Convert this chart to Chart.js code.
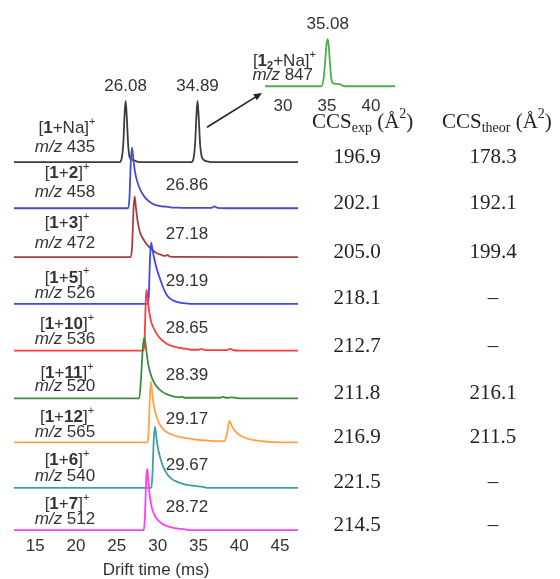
<!DOCTYPE html>
<html lang="en">
<head>
<meta charset="UTF-8">
<title>Drift time traces</title>
<script src="https://cdn.jsdelivr.net/npm/chart.js"></script>
<style>
    body { margin: 0; background: #fff; }
    #wrap { position: relative; width: 560px; height: 579px; }
    #main-box { position: absolute; left: 0; top: 0; width: 560px; height: 579px; }
    #inset-box { position: absolute; left: 240px; top: 3px; width: 180px; height: 120px; }
</style>
</head>
<body>
<div id="wrap">
    <div id="main-box"><canvas id="main"></canvas></div>
    <div id="inset-box"><canvas id="inset"></canvas></div>
</div>
<script>
// rows, top trace first
const guests = ['Na', '2', '3', '5', '10', '11', '12', '6', '7'];
const mzValues = [435, 458, 472, 526, 536, 520, 565, 540, 512];
const driftTimes = [26.08, 26.86, 27.18, 29.19, 28.65, 28.39, 29.17, 29.67, 28.72];
const dimerDrift = 34.89;
const dimerInsetDrift = 35.08;
const dimerMz = 847;
const ccsExp = [196.9, 202.1, 205.0, 218.1, 212.7, 211.8, 216.9, 221.5, 214.5];
const ccsTheor = [178.3, 192.1, 199.4, null, null, 216.1, 211.5, null, null];
const xTicks = [15, 20, 25, 30, 35, 40, 45];
const insetTicks = [30, 35, 40];

// traces: [drift time (ms), relative intensity]
const traceNa = [[12.4,0],[25.35,0],[25.6,6],[25.8,32],[25.95,78],[26.08,100],[26.22,74],[26.38,30],[26.55,9],[26.8,4],[27.1,3],[27.4,1],[27.8,0],
    [34.15,0],[34.4,6],[34.6,32],[34.76,78],[34.89,100],[35.03,74],[35.2,30],[35.4,9],[35.7,3],[36.1,1],[36.5,0],[47.2,0]];
const trace2 = [[12.4,0.5],[26.4,0.5],[26.55,18],[26.72,78],[26.86,100],[27.0,84],[27.2,62],[27.5,44],[27.9,30],[28.4,19],[29.0,11],[29.6,6.5],
    [30.3,4],[31.0,3],[31.6,2],[32.3,1.5],[33.5,1],[36.6,1],[36.95,3.5],[37.3,1.2],[38.5,0.5],[47.2,0.5]];
const trace3 = [[12.4,0.5],[26.72,0.5],[26.88,20],[27.05,80],[27.18,100],[27.32,84],[27.52,62],[27.8,43],[28.2,31],[28.7,21],[29.3,13],[29.9,7],
    [30.5,4],[30.9,2.5],[31.2,4],[31.5,1.5],[32.5,1],[47.2,0.5]];
const trace5 = [[12.4,0],[28.78,0],[28.92,15],[29.06,72],[29.19,100],[29.35,90],[29.6,73],[29.9,57],[30.3,41],[30.7,26],[31.1,15],[31.5,9],
    [32.0,5],[32.6,2.5],[33.3,1],[34.0,0],[47.2,0]];
const trace10 = [[12.4,0.5],[28.3,0.5],[28.42,25],[28.55,85],[28.65,100],[28.8,82],[29.0,62],[29.2,48],[29.5,38],[29.8,30],[30.2,22],[30.7,16],
    [31.2,11],[31.8,8],[32.4,6],[33.0,4.5],[33.6,3.5],[34.2,2],[35.0,2],[35.35,3.5],[35.8,1.5],[38.5,1.5],[38.9,3.5],[39.3,1.2],[41,0.5],[47.2,0.5]];
const trace11 = [[12.4,0.5],[27.75,0.5],[27.95,30],[28.2,86],[28.39,100],[28.55,86],[28.8,60],[29.1,42],[29.5,28],[30.0,18],[30.5,12],[31.0,8],
    [31.6,5],[32.2,3],[32.7,2],[32.95,3.5],[33.3,1.5],[37.6,1.5],[38.0,3],[38.4,1.5],[39.1,2],[40,0.5],[47.2,0.5]];
const trace12 = [[12.4,0.5],[28.75,0.5],[28.9,20],[29.05,75],[29.17,100],[29.3,86],[29.5,63],[29.8,46],[30.2,31],[30.7,22],[31.3,16],[32.0,12],
    [32.8,9],[33.6,7],[34.5,5.5],[35.5,4],[36.5,3],[37.5,2.5],[38.2,3],[38.5,15],[38.8,36],[39.1,27],[39.5,19],[40.0,13],[40.6,8.5],[41.3,5.5],
    [42.2,3.5],[43.2,2],[44.2,1],[47.2,0.5]];
const trace6 = [[12.4,0],[29.22,0],[29.36,20],[29.53,80],[29.67,100],[29.8,88],[30.0,68],[30.3,50],[30.7,34],[31.2,22],[31.8,14],[32.4,10],
    [33.0,7],[33.6,5],[34.2,4],[34.8,3],[35.4,2],[35.8,1],[36.2,0],[47.2,0]];
const trace7 = [[12.4,0],[28.3,0],[28.45,25],[28.6,85],[28.72,100],[28.85,82],[29.05,55],[29.3,36],[29.6,25],[30.0,17],[30.5,11],[31.1,7],
    [31.8,4],[32.5,2.5],[33.2,1.5],[34.0,0],[47.2,0]];
const traceDimer = [[27.95,0],[34.35,0],[34.6,15],[34.8,55],[34.95,90],[35.08,100],[35.2,85],[35.35,45],[35.5,15],[35.7,6],[36.1,5],[36.5,4],
    [36.8,1],[37.2,0],[42.73,0]];

const traces = [traceNa, trace2, trace3, trace5, trace10, trace11, trace12, trace6, trace7];
const traceColors = ['#3c3c3c', '#4b4bc4', '#a6403f', '#3f46f5', '#ff3b3b', '#3f8a3f', '#ffa345', '#3d9f9f', '#ff3cff'];

// layout: vertical offset of each trace, label lifts (px above baseline)
const rowBase = [602, 526, 446, 370, 293, 215, 143, 69, 0];
const lift1 = [34, 35, 34, 26, 27, 25, 25, 28, 26];
const lift2 = [15, 16, 14, 11, 12, 12, 10, 12, 11];

const SANS = '"Liberation Sans", Arial, sans-serif';
const SERIF = '"Liberation Serif", "Times New Roman", serif';

function drawRich(ctx, parts, x, y, align, size, family, smallRatio) {
    const ratio = smallRatio || 0.62;
    const small = st => st === 'sup' || st === 'sub' || st === 'subb';
    const fontFor = st => {
        const s = small(st) ? Math.round(size * ratio) : size;
        const w = (st === 'b' || st === 'subb') ? 'bold ' : '';
        const it = st === 'i' ? 'italic ' : '';
        return it + w + s + 'px ' + family;
    };
    let total = 0;
    parts.forEach(p => { ctx.font = fontFor(p[1]); total += ctx.measureText(p[0]).width; });
    let cx = align === 'center' ? x - total / 2 : (align === 'right' ? x - total : x);
    ctx.textAlign = 'left';
    ctx.textBaseline = 'middle';
    parts.forEach(p => {
        ctx.font = fontFor(p[1]);
        let dy = 0;
        if (p[1] === 'sup') dy = -size * 0.38;
        if (p[1] === 'sub' || p[1] === 'subb') dy = size * 0.3;
        ctx.fillText(p[0], cx, y + dy);
        cx += ctx.measureText(p[0]).width;
    });
}

const annotate = {
    id: 'annotate',
    afterDraw(chart) {
        const ctx = chart.ctx;
        const xs = chart.scales.x, ys = chart.scales.y;
        ctx.save();
        ctx.fillStyle = '#333';
        traces.forEach((t, i) => {
            const py = ys.getPixelForValue(rowBase[i]);
            const guest = guests[i] === 'Na' ? [guests[i], 'n'] : [guests[i], 'b'];
            drawRich(ctx, [['[', 'n'], ['1', 'b'], ['+', 'n'], guest, [']', 'n'], ['+', 'sup']], 67, py - lift1[i], 'center', 17, SANS);
            drawRich(ctx, [['m/z', 'i'], [' ' + mzValues[i], 'n']], 65, py - lift2[i], 'center', 17, SANS);

            ctx.font = '17px ' + SANS;
            ctx.textAlign = 'center';
            if (i === 0) {
                [driftTimes[0], dimerDrift].forEach(d => {
                    ctx.fillText(d.toFixed(2), xs.getPixelForValue(d), ys.getPixelForValue(rowBase[0] + 100) - 15);
                });
            } else {
                ctx.fillText(driftTimes[i].toFixed(2), xs.getPixelForValue(33.6), py - 23);
            }

            ctx.fillStyle = '#222';
            ctx.font = '21px ' + SERIF;
            ctx.fillText(ccsExp[i].toFixed(1), 357, py - 5);
            ctx.fillText(ccsTheor[i] === null ? '\u2013' : ccsTheor[i].toFixed(1), 493, py - 5);
            ctx.fillStyle = '#333';
        });

        // table header
        const hy = ys.getPixelForValue(rowBase[0]) - 40;
        ctx.fillStyle = '#222';
        drawRich(ctx, [['CCS', 'n'], ['exp', 'sub'], [' (\u00c5', 'n'], ['2', 'sup'], [')', 'n']], 312, hy, 'left', 21, SERIF, 0.68);
        drawRich(ctx, [['CCS', 'n'], ['theor', 'sub'], [' (\u00c5', 'n'], ['2', 'sup'], [')', 'n']], 442, hy, 'left', 21, SERIF, 0.68);

        // arrow from the dimer peak to the inset
        const x0 = xs.getPixelForValue(36.05), y0 = ys.getPixelForValue(rowBase[0] + 57);
        const x1 = xs.getPixelForValue(42.8), y1 = ys.getPixelForValue(rowBase[0] + 113);
        const ang = Math.atan2(y1 - y0, x1 - x0);
        ctx.strokeStyle = '#222';
        ctx.fillStyle = '#222';
        ctx.lineWidth = 1.6;
        ctx.beginPath();
        ctx.moveTo(x0, y0);
        ctx.lineTo(x1 - 6 * Math.cos(ang), y1 - 6 * Math.sin(ang));
        ctx.stroke();
        ctx.beginPath();
        ctx.moveTo(x1, y1);
        ctx.lineTo(x1 - 9 * Math.cos(ang - 0.4), y1 - 9 * Math.sin(ang - 0.4));
        ctx.lineTo(x1 - 9 * Math.cos(ang + 0.4), y1 - 9 * Math.sin(ang + 0.4));
        ctx.closePath();
        ctx.fill();
        ctx.restore();
    }
};

const datasets = traces.map((t, i) => ({
    data: t.map(p => ({ x: p[0], y: p[1] + rowBase[i] })),
    borderColor: traceColors[i],
    order: -i
}));

new Chart(document.getElementById('main'), {
    type: 'line',
    data: { datasets: datasets },
    options: {
        responsive: true,
        maintainAspectRatio: false,
        animation: false,
        layout: { padding: { left: 14, right: 262, top: 41, bottom: 0 } },
        plugins: { legend: { display: false }, tooltip: { enabled: false } },
        elements: {
            point: { radius: 0 },
            line: { borderWidth: 1.8, cubicInterpolationMode: 'monotone' }
        },
        scales: {
            x: {
                type: 'linear',
                min: 12.4,
                max: 47.2,
                afterBuildTicks: s => { s.ticks = xTicks.map(v => ({ value: v })); },
                grid: { display: false, drawTicks: false },
                border: { display: false },
                ticks: { font: { family: SANS, size: 17 }, color: '#333', padding: 3, maxRotation: 0 },
                title: {
                    display: true,
                    text: 'Drift time (ms)',
                    font: { family: SANS, size: 17 },
                    color: '#333',
                    padding: { top: 1, bottom: -2 }
                }
            },
            y: { display: false, min: -5, max: 800 }
        }
    },
    plugins: [annotate]
});

const insetNotes = {
    id: 'insetNotes',
    afterDraw(chart) {
        const ctx = chart.ctx;
        const xs = chart.scales.x, ys = chart.scales.y;
        ctx.save();
        ctx.fillStyle = '#333';
        ctx.font = '17px ' + SANS;
        ctx.textAlign = 'center';
        ctx.textBaseline = 'middle';
        ctx.fillText(dimerInsetDrift.toFixed(2), xs.getPixelForValue(dimerInsetDrift), ys.getPixelForValue(100) - 15);
        drawRich(ctx, [['[', 'n'], ['1', 'b'], ['2', 'subb'], ['+Na]', 'n'], ['+', 'sup']], 76, 58, 'right', 17, SANS);
        drawRich(ctx, [['m/z', 'i'], [' ' + dimerMz, 'n']], 73, 72, 'right', 17, SANS);
        ctx.restore();
    }
};

new Chart(document.getElementById('inset'), {
    type: 'line',
    data: {
        datasets: [{
            data: traceDimer.map(p => ({ x: p[0], y: p[1] })),
            borderColor: '#4cae4c'
        }]
    },
    options: {
        responsive: true,
        maintainAspectRatio: false,
        animation: false,
        layout: { padding: { left: 25, right: 25, top: 20, bottom: 0 } },
        plugins: { legend: { display: false }, tooltip: { enabled: false } },
        elements: {
            point: { radius: 0 },
            line: { borderWidth: 1.8, cubicInterpolationMode: 'monotone' }
        },
        scales: {
            x: {
                type: 'linear',
                min: 27.95,
                max: 42.73,
                afterBuildTicks: s => { s.ticks = insetTicks.map(v => ({ value: v })); },
                grid: { display: false, drawTicks: false },
                border: { display: false },
                ticks: { font: { family: SANS, size: 17 }, color: '#333', padding: 6, maxRotation: 0 }
            },
            y: { display: false, min: -9.2, max: 134 }
        }
    },
    plugins: [insetNotes]
});
</script>
</body>
</html>
